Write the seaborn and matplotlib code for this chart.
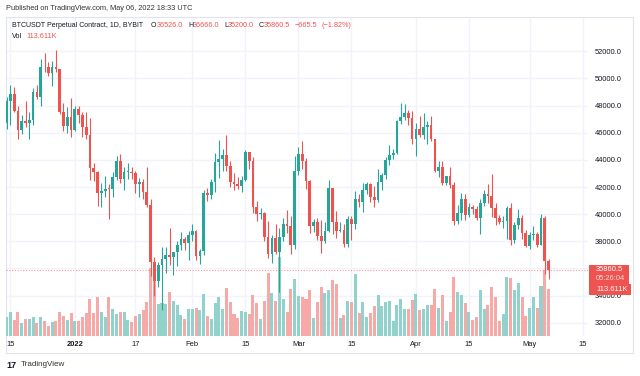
import numpy as np
import pandas as pd
import matplotlib
matplotlib.use("Agg")
import matplotlib.pyplot as plt
import seaborn as sns
from matplotlib.patches import Rectangle
from matplotlib.text import Annotation

# ---------------- data ----------------
dates = pd.date_range("2021-12-14", "2022-05-06", freq="D")

open_dec = [46700, 48350, 48870, 47630, 46200, 46850, 46680, 46900, 48960, 48600, 50820, 50800, 50430, 50800, 50700, 47550, 46470, 47130]
high_dec = [48650, 49500, 49400, 48000, 47300, 48300, 47500, 49300, 49500, 51400, 51850, 51200, 51250, 52100, 50700, 48150, 47900, 48550]
low_dec = [46300, 46550, 47550, 45500, 45900, 46400, 45550, 46600, 48450, 47950, 50450, 50200, 49450, 50450, 47350, 46100, 46000, 45700]
close_dec = [48350, 48870, 47630, 46200, 46850, 46680, 46900, 48960, 48600, 50820, 50800, 50430, 50800, 50700, 47550, 46470, 47130, 46200]

open_jan = [46200, 47730, 47300, 46450, 45830, 43430, 43080, 41560, 41680, 41860, 41830, 42740, 43920, 42590, 43090, 43100, 43000, 42250, 42370, 41660, 40680, 36450, 35080, 36280, 36680, 36970, 36830, 37180, 37700, 38170, 37910]
high_jan = [47950, 47990, 47550, 47500, 47050, 43750, 43150, 42300, 42800, 42250, 43100, 44300, 44450, 43450, 43800, 43500, 43200, 42650, 42600, 43500, 41100, 36850, 36500, 37550, 37550, 38950, 37250, 38000, 38700, 38350, 38750]
low_jan = [46100, 46700, 45700, 45500, 42500, 42450, 40600, 40500, 41250, 39650, 41300, 42500, 42300, 41750, 42600, 42600, 41550, 41250, 41100, 40550, 35450, 34000, 34600, 32950, 35700, 36250, 35500, 36200, 37350, 37350, 36650]
close_jan = [47730, 47300, 46450, 45830, 43430, 43080, 41560, 41680, 41860, 41830, 42740, 43920, 42590, 43090, 43100, 43000, 42250, 42370, 41660, 40680, 36450, 35080, 36280, 36680, 36970, 36830, 37180, 37700, 38170, 37910, 38480]

open_feb = [38480, 38730, 36930, 37320, 41560, 41400, 42400, 43850, 44030, 44380, 43550, 42400, 42220, 42050, 42550, 44550, 43880, 40550, 40000, 40100, 38350, 37050, 38250, 37250, 38350, 39250, 39150, 37700]
high_feb = [39250, 38850, 37400, 41750, 41950, 42600, 44500, 45450, 44800, 45850, 43900, 43000, 42750, 42800, 44750, 44600, 44200, 40950, 40450, 40150, 39500, 38450, 39250, 39000, 39750, 40300, 39900, 44250]
low_feb = [38000, 36600, 36300, 37000, 40950, 41150, 41650, 42650, 43150, 43200, 42000, 41800, 41850, 41600, 42450, 43350, 40100, 39500, 39650, 38000, 36800, 36400, 37050, 34300, 38050, 38600, 37050, 37450]
close_feb = [38730, 36930, 37320, 41560, 41400, 42400, 43850, 44030, 44380, 43550, 42400, 42220, 42050, 42550, 44550, 43880, 40550, 40000, 40100, 38350, 37050, 38250, 37250, 38350, 39250, 39150, 37700, 43200]

open_mar = [43200, 44420, 43900, 42450, 39150, 39400, 38400, 37990, 38730, 41950, 39430, 38730, 38810, 37780, 39670, 39280, 41120, 40920, 41750, 42200, 41270, 41020, 42360, 42890, 43960, 44330, 44500, 46830, 47130, 47450, 47060]
high_mar = [44950, 45400, 44100, 42500, 39650, 39700, 39550, 39400, 42550, 41950, 40250, 39450, 39300, 39900, 39900, 41700, 41450, 42300, 42400, 42300, 42050, 43350, 43000, 44200, 45100, 44800, 46950, 48200, 48100, 47700, 47600]
low_mar = [42850, 43350, 41850, 38600, 38650, 38100, 37150, 37900, 38650, 38550, 38250, 38650, 37600, 37600, 38100, 38900, 40500, 40150, 41500, 40900, 40500, 40900, 41800, 42600, 43600, 44050, 44400, 46650, 46950, 46600, 45200]
close_mar = [44420, 43900, 42450, 39150, 39400, 38400, 37990, 38730, 41950, 39430, 38730, 38810, 37780, 39670, 39280, 41120, 40920, 41750, 42200, 41270, 41020, 42360, 42890, 43960, 44330, 44500, 46830, 47130, 47450, 47060, 45540]

open_apr = [45540, 46290, 45820, 46400, 46600, 45500, 43170, 43450, 42280, 42780, 42150, 39530, 40080, 41150, 39940, 40550, 40400, 39700, 40800, 41500, 41370, 40480, 39700, 39450, 39460, 40430, 38120, 39230, 39750, 38600]
high_apr = [46700, 47200, 47450, 46850, 47200, 45500, 43900, 43950, 42800, 43450, 42400, 40700, 41550, 41500, 40850, 40700, 40600, 41100, 41750, 42200, 42950, 40800, 39950, 39900, 40600, 40800, 39450, 40350, 39950, 38800]
low_apr = [44250, 45650, 45550, 45150, 45400, 43100, 42750, 42150, 42150, 41900, 39200, 39250, 39550, 39550, 39800, 40000, 39550, 38550, 40600, 40850, 39800, 39200, 39300, 38950, 38200, 37700, 37900, 38900, 38200, 37600]
close_apr = [46290, 45820, 46400, 46600, 45500, 43170, 43450, 42280, 42780, 42150, 39530, 40080, 41150, 39940, 40550, 40400, 39700, 40800, 41500, 41370, 40480, 39700, 39450, 39460, 40430, 38120, 39230, 39750, 38600, 37630]

open_may = [37630, 38470, 38520, 37720, 39700, 36526.0]
high_may = [38650, 39100, 38650, 40000, 39850, 36666.0]
low_may = [37400, 38100, 37550, 37700, 35600, 35200.0]
close_may = [38470, 38520, 37720, 39700, 36530, 35860.5]

# volume in thousands
vol_dec_jan20 = [45.2, 58.7, 37.9, 58.7, 30.7, 41.8, 40.4, 45.2, 30.7, 46.6, 37.0, 23.4, 33.8, 35.5, 57.3, 47.6, 38.7, 54.9,
                 35.5, 37.0, 45.2, 54.9, 88.7, 54.9, 93.5, 57.3, 45.2, 93.5, 64.5, 53.9, 58.7, 57.3, 38.7, 33.8, 49.1, 52.4, 63.6, 81.5]
vol_jan21_feb = [164.4, 154.7, 77.3, 79.8, 76.6, 105.6, 83.9, 74.2, 50.8, 40.4, 66.0,
                 66.0, 67.7, 62.1, 102.2, 47.6, 40.4, 80.5, 95.0, 66.0, 116.0, 82.2, 53.9, 42.8, 61.2, 58.0, 53.9, 99.8, 79.8, 40.4,
                 83.9, 153.0, 103.9, 85.3, 190.9, 88.7, 57.3, 112.9, 137.0]
vol_mar = [96.7, 93.5, 89.4, 110.5, 42.8, 82.9, 119.2, 103.9, 111.9, 135.4, 125.7, 42.8, 50.8, 83.9, 81.5, 149.9, 54.9,
           82.9, 46.6, 54.9, 71.8, 99.8, 71.8, 82.2, 85.3, 35.5, 75.7, 90.2, 65.3, 65.3, 87.7]
vol_apr = [102.2, 63.6, 65.3, 74.9, 74.9, 113.6, 67.0, 98.4, 35.5, 58.7, 142.6, 105.6, 99.8, 80.5, 57.3, 38.7, 46.6, 110.5,
           65.3, 74.2, 117.7, 93.5, 35.5, 52.4, 141.9, 140.9, 111.9, 128.8, 95.0, 49.1]
vol_may = [67.7, 95.0, 67.0, 120.9, 158.8, 113.611]

tick_days = ["2021-12-15", "2022-01-01", "2022-01-17", "2022-02-01", "2022-02-15", "2022-03-01",
             "2022-03-15", "2022-04-01", "2022-04-15", "2022-05-01", "2022-05-15"]
tick_labels = ["15", "2022", "17", "Feb", "15", "Mar", "15", "Apr", "15", "May", "15"]
price_ticks = [32000, 34000, 36000, 38000, 40000, 42000, 44000, 46000, 48000, 50000, 52000]

last_price = 35860.5

# ---------------- assemble ----------------
df = pd.DataFrame({
    "date": dates,
    "open": open_dec + open_jan + open_feb + open_mar + open_apr + open_may,
    "high": high_dec + high_jan + high_feb + high_mar + high_apr + high_may,
    "low": low_dec + low_jan + low_feb + low_mar + low_apr + low_may,
    "close": close_dec + close_jan + close_feb + close_mar + close_apr + close_may,
    "volume": vol_dec_jan20 + vol_jan21_feb + vol_mar + vol_apr + vol_may,
})
df["day"] = (df["date"] - df["date"].iloc[0]).dt.days
df["dir"] = np.where(df["close"] >= df["open"], "up", "down")

UP, DOWN = "#26a69a", "#ef5350"
VUP, VDOWN = "#92d2cc", "#f7a9a7"
GRID = "#f0f3fa"
TXT = "#131722"

sns.set_theme(style="white")
plt.rcParams["font.family"] = ["Liberation Sans", "DejaVu Sans"]

W, H = 640, 376
fig = plt.figure(figsize=(W / 100, H / 100), dpi=100)
fig.patch.set_facecolor("white")


def fx(px):
    return px / W


def fy(py):
    return 1 - py / H


L, R, T, B = 6, 588, 17, 336
rect = [fx(L), fy(B), fx(R) - fx(L), fy(T) - fy(B)]

PX_PER_DAY = 3.79
X0 = 6.6
xlim = ((L - X0) / PX_PER_DAY, (R - X0) / PX_PER_DAY)
PX_PER_K = 0.01358
ylim = (52000 - (B - 51.2) / PX_PER_K, 52000 + (51.2 - T) / PX_PER_K)
vol_top = (B - T) * 113.611 / 47.0

ax_p = fig.add_axes(rect, zorder=0)
ax_v = fig.add_axes(rect, zorder=1)
ax_c = fig.add_axes(rect, zorder=2)

# grid + axis labels layer
tick_pos = [(pd.Timestamp(d) - df["date"].iloc[0]).days for d in tick_days]
ax_p.set_xlim(*xlim)
ax_p.set_ylim(*ylim)
ax_p.set_xticks(tick_pos)
ax_p.set_xticklabels(tick_labels)
ax_p.set_yticks(price_ticks)
ax_p.set_yticklabels([f"{v:.1f}" for v in price_ticks])
ax_p.yaxis.tick_right()
ax_p.grid(True, color=GRID, lw=1)
ax_p.tick_params(axis="both", length=0, labelsize=5.4, labelcolor=TXT)
ax_p.tick_params(axis="y", pad=5)
ax_p.tick_params(axis="x", pad=3.5)
ax_p.get_xticklabels()[1].set_fontweight("bold")
for s in ax_p.spines.values():
    s.set_visible(False)
ax_p.set_facecolor("white")

# volume layer
sns.barplot(data=df, x="day", y="volume", hue="dir", palette={"up": VUP, "down": VDOWN},
            native_scale=True, dodge=False, width=0.8, saturation=1, errorbar=None,
            legend=False, linewidth=0, ax=ax_v)
ax_v.set_xlim(*xlim)
ax_v.set_ylim(0, vol_top)
ax_v.axis("off")
ax_v.patch.set_alpha(0)

# candle layer
cols = np.where(df["dir"] == "up", UP, DOWN)
ax_c.vlines(df["day"], df["low"], df["high"], colors=cols, lw=0.8)
body_bottom = np.minimum(df["open"], df["close"])
body_h = np.maximum(np.abs(df["close"] - df["open"]), 70)
ax_c.bar(df["day"], body_h, bottom=body_bottom, width=0.72, color=cols, linewidth=0)
ax_c.axhline(last_price, color=DOWN, lw=0.8, ls=(0, (1, 1.5)), alpha=0.6)
ax_c.set_xlim(*xlim)
ax_c.set_ylim(*ylim)
ax_c.axis("off")
ax_c.patch.set_alpha(0)

# frame
fig.add_artist(Rectangle((fx(6), fy(353)), fx(633) - fx(6), fy(17) - fy(353), transform=fig.transFigure,
                         fill=False, edgecolor="#e0e3eb", lw=0.8))

# header & legend
fs = 5.4
fig.text(fx(6), fy(8), "Published on TradingView.com, May 06, 2022 18:33 UTC", fontsize=5.3, color="#333333", va="center")
fig.text(fx(11.7), fy(25.5), "BTCUSDT Perpetual Contract, 1D, BYBIT", fontsize=5.0, color=TXT, va="center")
ohlc_parts = [
    (151.0, "O", "36526.0"),
    (188.0, "H", "36666.0"),
    (224.0, "L", "35200.0"),
    (259.0, "C", "35860.5"),
]
for x, letter, value in ohlc_parts:
    t = fig.text(fx(x), fy(25.5), letter, fontsize=5.0, color=TXT, va="center")
    fig.add_artist(Annotation(value, xy=(1, 0.5), xycoords=t, va="center", ha="left",
                              fontsize=5.2, color=DOWN))
fig.text(fx(295.0), fy(25.5), "\u2212665.5", fontsize=5.2, color=DOWN, va="center")
fig.text(fx(322.0), fy(25.5), "(\u22121.82%)", fontsize=5.2, color=DOWN, va="center")
fig.text(fx(11.7), fy(36), "Vol", fontsize=5.2, color=TXT, va="center")
fig.text(fx(26.7), fy(36), "113.611K", fontsize=5.2, color=DOWN, va="center")

# last price / volume labels
fig.add_artist(Rectangle((fx(589), fy(284.3)), fx(629.3) - fx(589), fy(265) - fy(284.3),
                         transform=fig.transFigure, color=DOWN, lw=0))
fig.add_artist(Rectangle((fx(589), fy(295)), fx(631) - fx(589), fy(284.3) - fy(295),
                         transform=fig.transFigure, color=DOWN, lw=0))
fig.text(fx(596), fy(269.7), "35860.5", fontsize=fs, color="white", va="center")
fig.text(fx(596), fy(279), "05:26:04", fontsize=fs, color="#fcd9d8", va="center")
fig.text(fx(596), fy(289.7), "113.611K", fontsize=fs, color="white", va="center")

# footer
fig.text(fx(6), fy(365), "17", fontsize=6.5, color=TXT, va="center", fontweight="bold")
fig.text(fx(20.7), fy(365), "TradingView", fontsize=5.8, color="#333333", va="center")

fig.savefig("out.png", dpi=100, facecolor="white")
